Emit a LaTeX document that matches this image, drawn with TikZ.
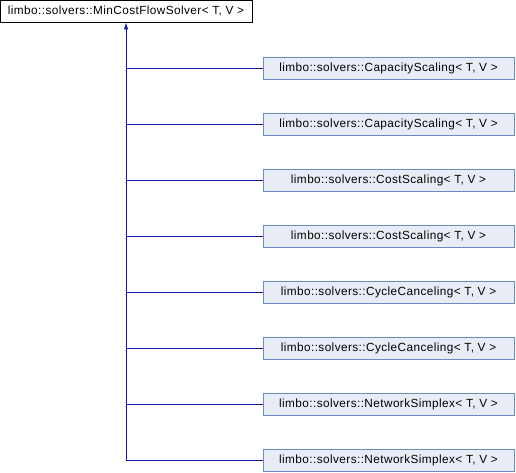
\documentclass[tikz,border=0pt]{standalone}
\usepackage{fontspec}
\setmainfont{Liberation Sans}[LetterSpace=3.5]
\usetikzlibrary{arrows.meta}
\definecolor{edgeblue}{RGB}{25,25,160}
\definecolor{childfill}{RGB}{232,236,244}
\definecolor{childdraw}{RGB}{108,138,196}
\tikzset{
  basebox/.style={draw=black, fill=white, line width=0.8pt, minimum width=252pt, minimum height=22pt, inner sep=0pt, font=\fontsize{11.8}{13}\selectfont},
  childbox/.style={draw=childdraw, fill=childfill, line width=0.8pt, minimum width=251pt, minimum height=22.5pt, inner sep=0pt, font=\fontsize{11.8}{13}\selectfont},
  edge/.style={draw=edgeblue, line width=0.8pt},
}
\begin{document}
\begin{tikzpicture}[x=1pt,y=-1pt]
\useasboundingbox (0,0) rectangle (516,472);
\node[basebox] (base) at (126,11) {limbo::solvers::MinCostFlowSolver< T, V >};
\node[childbox] (c1) at (388.5,68.3) {limbo::solvers::CapacityScaling< T, V >};
\node[childbox] (c2) at (388.5,124.3) {limbo::solvers::CapacityScaling< T, V >};
\node[childbox] (c3) at (388.5,180.3) {limbo::solvers::CostScaling< T, V >};
\node[childbox] (c4) at (388.5,236.3) {limbo::solvers::CostScaling< T, V >};
\node[childbox] (c5) at (388.5,292.3) {limbo::solvers::CycleCanceling< T, V >};
\node[childbox] (c6) at (388.5,348.3) {limbo::solvers::CycleCanceling< T, V >};
\node[childbox] (c7) at (388.5,404.3) {limbo::solvers::NetworkSimplex< T, V >};
\node[childbox] (c8) at (388.5,460.3) {limbo::solvers::NetworkSimplex< T, V >};
\coordinate (bot) at (126,460.3);
\draw[edge, -{Latex[length=7pt,width=4.5pt]}] (bot) -- (base.south);
\foreach \c in {c1,c2,c3,c4,c5,c6,c7,c8} {
  \draw[edge] (\c.west) -- (bot |- \c.west);
}
\end{tikzpicture}
\end{document}
